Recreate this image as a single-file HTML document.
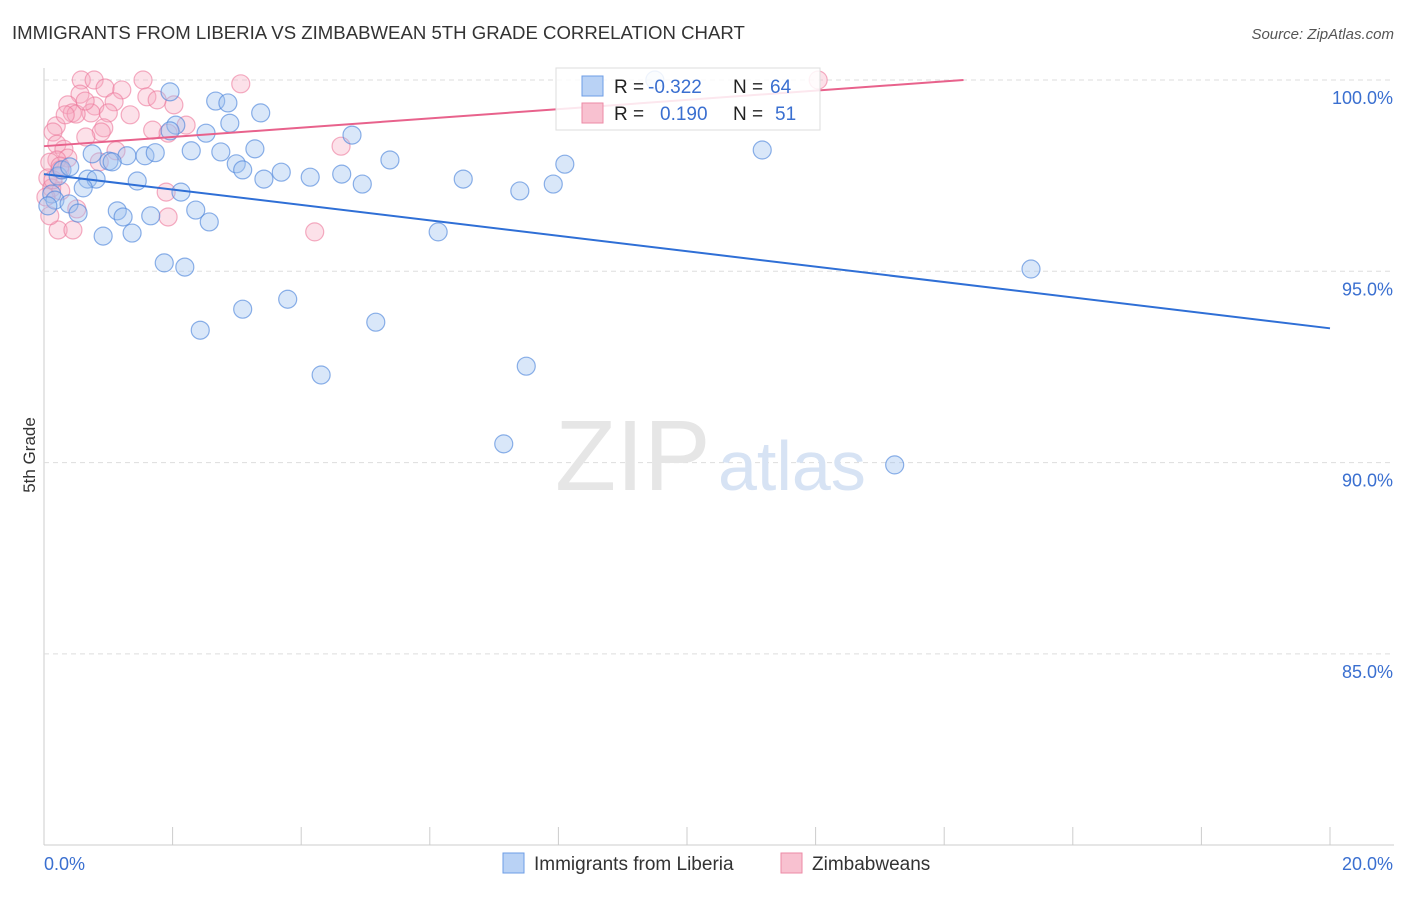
<!DOCTYPE html>
<html><head><meta charset="utf-8"><style>
body{margin:0;background:#fff;font-family:"Liberation Sans",sans-serif}
svg text{font-family:"Liberation Sans",sans-serif}
</style></head><body>
<svg id="c" width="1406" height="892">
<text x="12" y="39" font-size="18.6" fill="#333">IMMIGRANTS FROM LIBERIA VS ZIMBABWEAN 5TH GRADE CORRELATION CHART</text>
<text x="1394" y="39" font-size="15" fill="#555" font-style="italic" text-anchor="end">Source: ZipAtlas.com</text>
<text x="35" y="455" font-size="17" fill="#333" transform="rotate(-90 35 455)" text-anchor="middle">5th Grade</text>
<g id="grid"></g>
<text x="555" y="490" font-size="100" fill="#e6e6e6" font-family="Liberation Serif">ZIP</text>
<text x="718" y="490" font-size="70" fill="#d7e3f4">atlas</text>
<g id="pts"></g>
<g id="lines"></g>
<g>
<rect x="556" y="68" width="264" height="62" fill="#fff" fill-opacity="0.85" stroke="#ddd"/>
<rect x="582" y="76" width="21" height="20" fill="#b9d2f5" stroke="#6d9de6"/>
<rect x="582" y="103" width="21" height="20" fill="#f8c1d0" stroke="#ec8aa6"/>
<text x="614" y="93" font-size="19" fill="#222">R =</text>
<text x="648" y="93" font-size="19" fill="#3a6fd0">-0.322</text>
<text x="733" y="93" font-size="19" fill="#222">N =</text>
<text x="770" y="93" font-size="19" fill="#3a6fd0">64</text>
<text x="614" y="120" font-size="19" fill="#222">R =</text>
<text x="660" y="120" font-size="19" fill="#3a6fd0">0.190</text>
<text x="733" y="120" font-size="19" fill="#222">N =</text>
<text x="775" y="120" font-size="19" fill="#3a6fd0">51</text>
</g>
<g>
<rect x="503" y="853" width="21" height="20" fill="#b9d2f5" stroke="#6d9de6"/>
<text x="534" y="870" font-size="19" fill="#333">Immigrants from Liberia</text>
<rect x="781" y="853" width="21" height="20" fill="#f8c1d0" stroke="#ec8aa6"/>
<text x="812" y="870" font-size="19" fill="#333">Zimbabweans</text>
</g>
</svg>
<script>
const blueX=[9.5,1.96,2.67,2.86,3.37,2.05,1.96,2.89,2.52,4.79,0.75,1.29,1.57,1.73,2.29,2.75,3.28,2.99,3.09,1.01,1.06,5.38,8.1,11.17,0.22,0.68,0.81,1.45,3.42,3.69,4.14,4.63,4.95,6.52,7.92,7.4,0.61,2.13,0.12,0.17,0.39,0.53,1.14,1.23,1.66,2.36,2.57,1.37,0.92,6.13,1.87,2.19,15.35,3.79,3.09,5.16,2.43,4.31,7.5,7.15,13.23,0.06,0.28,0.40];
const blueY=[100,99.69,99.45,99.4,99.14,98.82,98.67,98.87,98.61,98.56,98.07,98.02,98.02,98.1,98.15,98.12,98.2,97.81,97.65,97.88,97.86,97.91,97.8,98.17,97.49,97.41,97.41,97.36,97.41,97.59,97.46,97.54,97.28,97.41,97.28,97.1,97.18,97.07,97.02,96.86,96.76,96.52,96.58,96.42,96.45,96.6,96.29,96.0,95.92,96.03,95.22,95.11,95.06,94.27,94.01,93.67,93.46,92.29,92.52,90.49,89.94,96.71,97.65,97.73];
const pinkX=[0.58,0.78,1.54,3.06,12.04,0.95,0.56,1.21,1.60,1.09,1.76,0.37,0.79,2.02,0.44,0.73,1.0,0.19,0.14,0.93,0.89,1.69,1.93,2.21,4.62,0.65,0.2,0.31,1.12,0.37,0.2,0.09,0.25,0.06,0.12,1.9,0.51,1.93,4.21,0.22,0.45,0.09,0.26,0.03,0.25,0.50,1.34,0.33,0.64,0.86,0.14];
const pinkY=[100,100,100,99.9,100,99.79,99.63,99.74,99.56,99.43,99.48,99.35,99.32,99.35,99.14,99.14,99.14,98.8,98.64,98.75,98.64,98.69,98.61,98.82,98.27,98.51,98.32,98.19,98.15,97.96,97.91,97.85,97.65,97.44,97.18,97.07,96.63,96.42,96.03,96.08,96.08,96.45,97.1,96.94,97.75,99.11,99.09,99.09,99.45,97.86,97.39];
const lineBlue=[[0,97.54],[20,93.51]];
const linePink=[[0,98.27],[14.3,100]];
const yTicks=[100,95,90,85];
const xTicks=[0,2,4,6,8,10,12,14,16,18,20];
const NS='http://www.w3.org/2000/svg';
const X=v=>44+v/20*1286, Y=v=>80+(100-v)*38.26;
function mk(t,a,p){const e=document.createElementNS(NS,t);for(const k in a)e.setAttribute(k,a[k]);p.appendChild(e);return e;}
const g=document.getElementById('grid'),P=document.getElementById('pts'),L=document.getElementById('lines');
let ax=mk('line',{x1:44,y1:68,x2:44,y2:845,stroke:'#ccc'},g);


let bx=mk('line',{x1:44,y1:845,x2:1394,y2:845,stroke:'#ccc'},g);


yTicks.forEach(v=>{
 let l=mk('line',{x1:44,x2:1394,y1:Y(v),y2:Y(v),stroke:'#ddd','stroke-dasharray':'5,4'},g);
 
 
 let t=mk('text',{x:1393,y:Y(v)+24,'font-size':18,fill:'#3a6fd0','text-anchor':'end'},g);t.textContent=v.toFixed(1)+'%';
 
 
});
xTicks.forEach(v=>{
 let l=mk('line',{x1:X(v),x2:X(v),y1:827,y2:845,stroke:'#ccc'},g);
 
 
});
[[0,'start'],[20,'end']].forEach(([v,a])=>{
 let t=mk('text',{x:v?1393:44,y:870,'font-size':18,fill:'#3a6fd0','text-anchor':a},g);t.textContent=v.toFixed(1)+'%';
 
 
});
pinkX.forEach((x,i)=>{
 let c=mk('circle',{cx:X(x),cy:Y(pinkY[i]),r:9,fill:'rgba(246,170,193,0.35)',stroke:'rgba(236,120,155,0.6)','stroke-width':1.2},P);
 
 
});
blueX.forEach((x,i)=>{
 let c=mk('circle',{cx:X(x),cy:Y(blueY[i]),r:9,fill:'rgba(160,195,240,0.4)',stroke:'rgba(80,135,220,0.65)','stroke-width':1.2},P);
 
 
});
let lb=mk('line',{x1:X(lineBlue[0][0]),y1:Y(lineBlue[0][1]),x2:X(lineBlue[1][0]),y2:Y(lineBlue[1][1]),stroke:'#2f6fd6','stroke-width':2},L);


let lp=mk('line',{x1:X(linePink[0][0]),y1:Y(linePink[0][1]),x2:X(linePink[1][0]),y2:Y(linePink[1][1]),stroke:'#e8628c','stroke-width':2},L);


</script>
</body></html>
